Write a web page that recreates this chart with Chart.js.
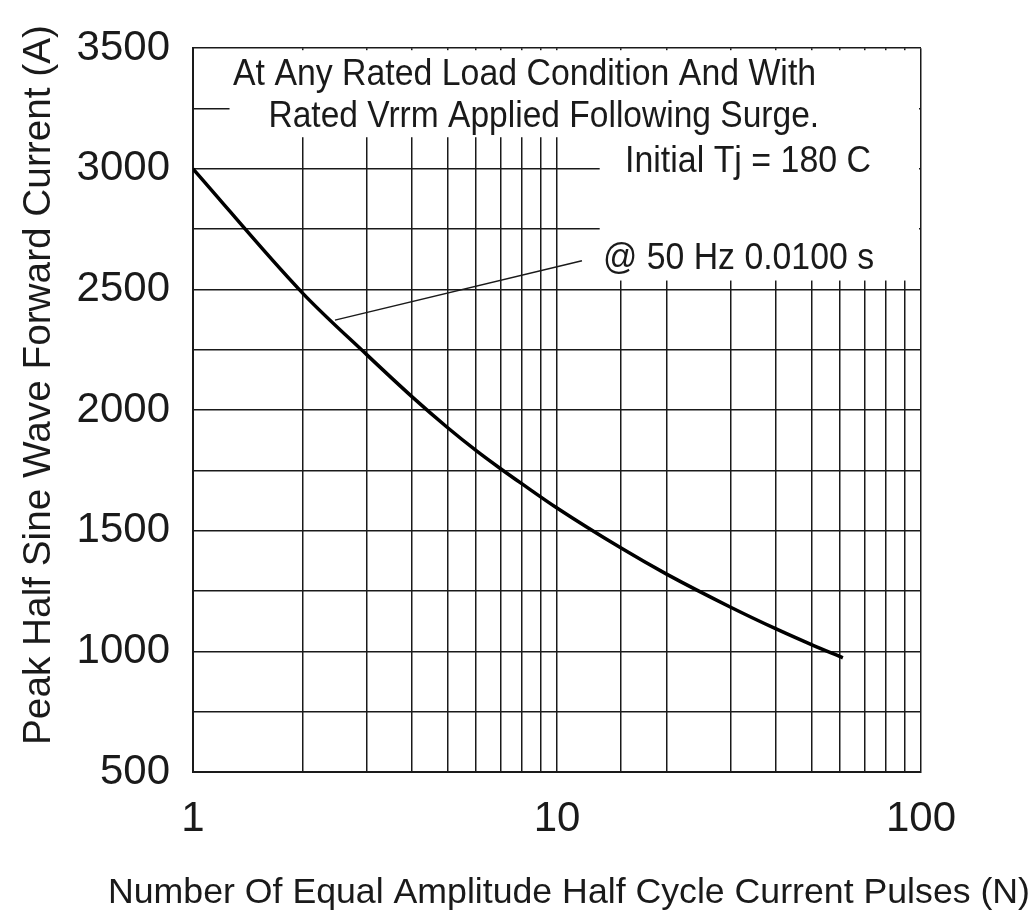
<!DOCTYPE html>
<html>
<head>
<meta charset="utf-8">
<script src="https://cdn.jsdelivr.net/npm/chart.js@4.4.1/dist/chart.umd.min.js"></script>
<style>
  html, body { margin: 0; padding: 0; background: #fff; }
</style>
</head>
<body>
<canvas id="surgeChart" width="1036" height="912"></canvas>
<script>
// values
const pulses = [1, 2, 3, 4, 5, 6, 7, 8, 10, 15, 20, 30, 40, 50, 61];
const peakCurrent = [3000, 2485, 2230, 2055, 1928, 1832, 1757, 1695, 1594, 1428, 1320, 1183, 1093, 1028, 973];
const xTickLabels = [1, 10, 100];
const yTickLabels = [500, 1000, 1500, 2000, 2500, 3000, 3500];

const FONT = '"Liberation Sans", Arial, sans-serif';
const INK = "#1a1a1a";

// notes inside the plot, placed in data units (left x, right x, baseline y)
const notes = [
  { text: "At Any Rated Load Condition And With", x0: 1.288, x1: 51.5, y: 3348 },
  { text: "Rated Vrrm Applied Following Surge.", x0: 1.612, x1: 52.5, y: 3172 },
  { text: "Initial Tj = 180 C", x0: 15.38, x1: 72.9, y: 2988 },
  { text: "@ 50 Hz 0.0100 s", x0: 13.38, x1: 74.3, y: 2586 },
];
// white areas behind the notes that hide the grid
const blanks = [
  { x0: 1.26, x1: 100, y0: 3500, y1: 3131 },
  { x0: 13.1, x1: 100, y0: 3132, y1: 2537 },
];
const leader = { x0: 11.71, y0: 2619, x1: 2.455, y1: 2373 };

function fitText(ctx, text, x, y, width, size) {
  ctx.font = size + "px " + FONT;
  const w = ctx.measureText(text).width;
  ctx.save();
  ctx.translate(x, y);
  ctx.scale(width / w, 1);
  ctx.fillText(text, 0, 0);
  ctx.restore();
}

const notesPlugin = {
  id: "notes",
  beforeDatasetsDraw(chart) {
    const { ctx, scales: { x, y } } = chart;
    ctx.save();
    ctx.fillStyle = "#fff";
    blanks.forEach(b => {
      const px0 = x.getPixelForValue(b.x0);
      const px1 = x.getPixelForValue(b.x1) - 2;
      const py0 = Math.max(y.top + 2, y.getPixelForValue(b.y0));
      const py1 = y.getPixelForValue(b.y1);
      ctx.fillRect(px0, py0, px1 - px0, py1 - py0);
    });

    ctx.strokeStyle = INK;
    ctx.lineWidth = 1.5;
    ctx.beginPath();
    ctx.moveTo(x.getPixelForValue(leader.x0), y.getPixelForValue(leader.y0));
    ctx.lineTo(x.getPixelForValue(leader.x1), y.getPixelForValue(leader.y1));
    ctx.stroke();

    ctx.fillStyle = INK;
    ctx.textBaseline = "alphabetic";
    ctx.textAlign = "left";
    notes.forEach(n => {
      const left = x.getPixelForValue(n.x0);
      const right = x.getPixelForValue(n.x1);
      fitText(ctx, n.text, left, y.getPixelForValue(n.y), right - left, 36);
    });
    ctx.restore();
  },
  afterDraw(chart) {
    const ctx = chart.ctx;
    ctx.save();
    ctx.fillStyle = INK;
    ctx.textBaseline = "alphabetic";
    ctx.textAlign = "left";
    fitText(ctx, "Number Of Equal Amplitude Half Cycle Current Pulses (N)", 108, 903, 922, 35);
    ctx.translate(50, 745);
    ctx.rotate(-Math.PI / 2);
    fitText(ctx, "Peak Half Sine Wave Forward Current (A)", 0, 0, 720, 39);
    ctx.restore();
  }
};

const ctx = document.getElementById("surgeChart").getContext("2d");

const myChart = new Chart(ctx, {
  type: "line",
  data: {
    datasets: [{
      data: pulses.map((n, i) => ({ x: n, y: peakCurrent[i] })),
      borderColor: "#000",
      borderWidth: 3.5,
      pointRadius: 0,
      fill: false,
      cubicInterpolationMode: "monotone",
    }],
  },
  options: {
    responsive: false,
    animation: false,
    devicePixelRatio: 1,
    layout: { padding: { left: 0, right: 115, top: 40, bottom: 0 } },
    plugins: { legend: { display: false }, tooltip: { enabled: false } },
    scales: {
      x: {
        type: "logarithmic",
        min: 1,
        max: 100,
        afterFit: s => { s.height = 140; },
        grid: { color: INK, lineWidth: 1.5, drawTicks: false },
        border: { color: INK, width: 2 },
        ticks: {
          autoSkip: false,
          maxRotation: 0,
          padding: 22,
          color: INK,
          font: { family: FONT, size: 42 },
          callback: v => {
            const r = Math.round(v);
            return Math.abs(v - r) < 1e-6 && xTickLabels.includes(r) ? String(r) : "";
          },
        },
      },
      y: {
        min: 500,
        max: 3500,
        afterFit: s => { s.width = 193; },
        grid: { color: INK, lineWidth: 1.5, drawTicks: false },
        border: { color: INK, width: 2 },
        ticks: {
          stepSize: 250,
          autoSkip: false,
          padding: 23,
          color: INK,
          font: { family: FONT, size: 42 },
          callback: v => (yTickLabels.includes(v) ? String(v) : ""),
        },
      },
    },
  },
  plugins: [notesPlugin],
});
</script>
</body>
</html>
